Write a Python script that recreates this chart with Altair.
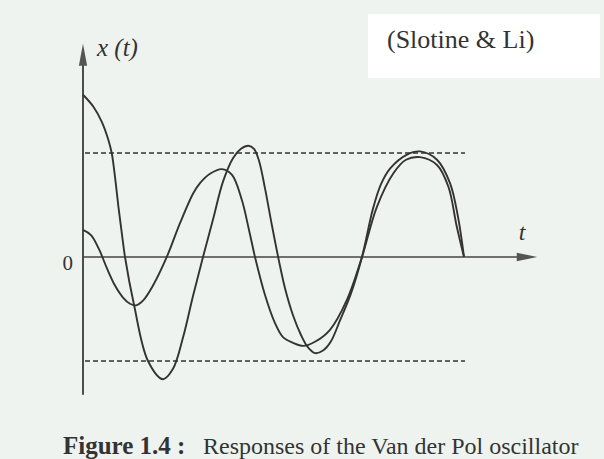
import altair as alt
import pandas as pd

# Time axis and the two responses x(t) of the Van der Pol oscillator
t_a = [0, 0.52, 0.94, 1.27, 1.44, 1.60, 1.77, 1.94, 2.10, 2.55, 3.25, 4.00, 4.50, 5.00,
       5.50, 6.00, 6.50, 7.00, 7.50, 7.90, 8.27, 8.55, 8.80, 9.10, 9.45, 9.80, 10.10,
       10.50, 10.90, 11.25, 11.60, 12.00, 12.40, 12.85, 13.40, 13.95, 14.50, 14.90,
       15.35, 16.20, 16.85, 17.70, 18.35, 18.75, 19.05]
x_a = [3.12, 2.89, 2.60, 2.25, 1.99, 1.54, 0.97, 0.46, 0.0, -0.92, -2.00, -2.35, -2.15,
       -1.55, -0.75, 0.0, 0.72, 1.45, 1.90, 2.08, 2.14, 2.08, 1.85, 1.32, 0.60, -0.08,
       -0.60, -1.12, -1.50, -1.74, -1.85, -1.80, -1.62, -1.22, -0.70, 0.0, 0.93, 1.40,
       1.70, 1.97, 2.03, 1.87, 1.42, 0.77, 0.0]

t_b = [0, 0.40, 0.80, 1.20, 1.60, 2.00, 2.35, 2.65, 3.00, 3.50, 4.19, 4.85, 5.52, 5.85,
       6.35, 6.94, 7.45, 7.94, 8.30, 8.60, 9.10, 9.60, 10.00, 10.50, 11.02, 11.60, 12.35,
       13.19, 13.95, 14.69, 15.52, 16.15, 16.85, 17.70, 18.27, 18.69, 19.05]
x_b = [0.52, 0.42, 0.15, -0.22, -0.55, -0.78, -0.90, -0.93, -0.84, -0.55, 0.0, 0.65,
       1.23, 1.42, 1.60, 1.69, 1.58, 1.10, 0.52, 0.0, -0.73, -1.27, -1.54, -1.65, -1.71,
       -1.63, -1.40, -0.83, 0.0, 0.96, 1.61, 1.87, 1.92, 1.77, 1.35, 0.58, 0.0]

# Limit-cycle amplitude (dashed guides)
amplitude = [2.0, -2.0]
guide_start, guide_end = 0.1, 19.1

# Axis extents
t_axis_end, t_arrow_tip = 21.7, 22.7
x_axis_low, x_axis_high, x_arrow_tip = -2.65, 3.72, 4.10

INK = "#333333"
PAPER = "#eff3f0"
SERIF = "Liberation Serif"

xs = alt.Scale(domain=[-4.15, 26.05], nice=False, zero=False)
ys = alt.Scale(domain=[-3.885, 4.942], nice=False, zero=False)
X = lambda f: alt.X(f, type="quantitative", scale=xs, axis=None)
Y = lambda f: alt.Y(f, type="quantitative", scale=ys, axis=None)

resp = pd.concat([
    pd.DataFrame({"t": t_a, "x": x_a, "run": "a"}),
    pd.DataFrame({"t": t_b, "x": x_b, "run": "b"}),
])

curves = alt.Chart(resp).mark_line(
    interpolate="catmull-rom", color=INK, strokeWidth=1.9
).encode(x=X("t"), y=Y("x"), detail="run:N")

guides = alt.Chart(pd.DataFrame({"lvl": amplitude, "t0": guide_start, "t1": guide_end})).mark_rule(
    color=INK, strokeWidth=1.7, strokeDash=[5, 3]
).encode(x=X("t0"), x2="t1", y=Y("lvl"))

t_axis = alt.Chart(pd.DataFrame({"t0": [0.0], "t1": [t_axis_end], "v": [0.0]})).mark_rule(
    color="#444444", strokeWidth=1.7
).encode(x=X("t0"), x2="t1", y=Y("v"))

x_axis = alt.Chart(pd.DataFrame({"t": [0.0], "lo": [x_axis_low], "hi": [x_axis_high]})).mark_rule(
    color="#444444", strokeWidth=1.9
).encode(x=X("t"), y=Y("lo"), y2="hi")

# Arrow heads at the ends of both axes
arrow_up = alt.Chart(pd.DataFrame({"t": [0.0], "v": [x_arrow_tip - 0.21]})).mark_point(
    shape="M0,-1L0.38,1L-0.38,1Z", size=480, filled=True, color="#555555", opacity=1
).encode(x=X("t"), y=Y("v"))
arrow_right = alt.Chart(pd.DataFrame({"t": [t_arrow_tip - 0.5], "v": [0.0]})).mark_point(
    shape="M1,0L-1,0.42L-1,-0.42Z", size=420, filled=True, color="#555555", opacity=1
).encode(x=X("t"), y=Y("v"))

def label(t, v, txt, size, align="left", style="normal", weight="normal", font=SERIF):
    return alt.Chart(pd.DataFrame({"t": [t], "v": [v], "s": [txt]})).mark_text(
        align=align, baseline="alphabetic", font=font, fontSize=size,
        fontStyle=style, fontWeight=weight, color=INK
    ).encode(x=X("t"), y=Y("v"), text="s:N")

x_label = label(0.7, 3.87, "x (t)", 25, style="italic")
t_label = label(21.95, 0.33, "t", 24, align="center", style="italic")
zero_label = label(-0.5, -0.25, "0", 21, align="right")

source_box = alt.Chart(pd.DataFrame({"a": [14.25], "b": [25.85], "c": [4.67], "d": [3.44]})).mark_rect(
    color="white"
).encode(x=X("a"), x2="b", y=Y("c"), y2="d")
source_text = label(15.2, 4.02, "(Slotine & Li)", 26)

cap_bold = label(-1.0, -3.79, "Figure 1.4 :", 25, weight="bold")
cap_rest = label(6.0, -3.79, "Responses of the Van der Pol oscillator", 24)

chart = alt.layer(
    guides, t_axis, x_axis, arrow_up, arrow_right, curves,
    x_label, t_label, zero_label, source_box, source_text, cap_bold, cap_rest
).properties(
    width=604, height=459, padding=0, background=PAPER,
    autosize=alt.AutoSizeParams(type="none")
).configure_view(stroke=None)

chart.save("out.html", embed_options={"renderer": "svg", "actions": False})
